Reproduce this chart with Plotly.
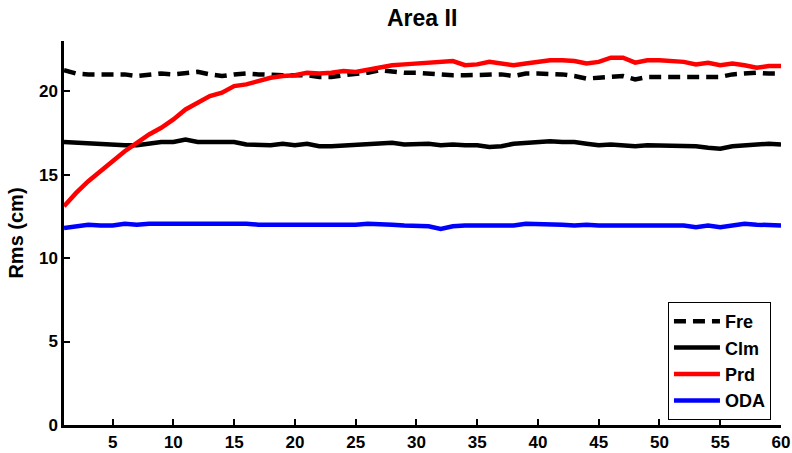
import plotly.graph_objects as go

x = list(range(1, 61))

fre = [21.25, 21.05, 21.0, 21.0, 21.0, 21.0, 20.9, 21.0, 21.05, 21.0,
       21.1, 21.15, 21.0, 20.9, 21.0, 21.05, 21.0, 20.95, 20.95, 20.95,
       20.95, 20.85, 20.85, 20.95, 21.0, 21.1, 21.25, 21.15, 21.1, 21.1,
       21.05, 20.95, 20.95, 20.95, 20.95, 21.0, 21.0, 20.9, 21.05, 21.05,
       21.05, 21.0, 20.9, 20.75, 20.8, 20.85, 20.9, 20.7, 20.85, 20.85,
       20.85, 20.85, 20.85, 20.85, 20.85, 21.0, 21.05, 21.1, 21.05, 21.05]

clm = [16.95, 16.9, 16.85, 16.85, 16.8, 16.75, 16.75, 16.85, 16.95, 16.95,
       17.1, 16.95, 16.95, 16.95, 16.95, 16.8, 16.8, 16.75, 16.85, 16.75,
       16.85, 16.7, 16.7, 16.75, 16.75, 16.85, 16.9, 16.9, 16.8, 16.85,
       16.85, 16.75, 16.8, 16.75, 16.75, 16.65, 16.7, 16.85, 16.9, 17.0,
       17.0, 16.95, 16.95, 16.85, 16.75, 16.8, 16.75, 16.7, 16.75, 16.75,
       16.75, 16.75, 16.7, 16.6, 16.55, 16.7, 16.75, 16.75, 16.85, 16.8]

prd = [13.1, 13.9, 14.6, 15.2, 15.8, 16.4, 16.9, 17.4, 17.8, 18.3,
       18.9, 19.3, 19.7, 19.9, 20.3, 20.4, 20.6, 20.8, 20.9, 20.95,
       21.1, 21.05, 21.1, 21.2, 21.15, 21.3, 21.45, 21.55, 21.6, 21.65,
       21.7, 21.75, 21.8, 21.55, 21.6, 21.75, 21.65, 21.55, 21.65, 21.75,
       21.85, 21.85, 21.8, 21.65, 21.75, 22.0, 22.0, 21.7, 21.85, 21.85,
       21.8, 21.75, 21.6, 21.7, 21.55, 21.65, 21.55, 21.4, 21.5, 21.5]

oda = [11.8, 11.9, 12.0, 11.95, 11.95, 12.05, 12.0, 12.05, 12.05, 12.05,
       12.1, 12.05, 12.1, 12.05, 12.1, 12.05, 12.0, 12.0, 12.0, 11.95,
       12.0, 11.95, 11.95, 12.0, 12.0, 12.05, 12.05, 12.0, 11.95, 11.9,
       11.9, 11.75, 11.9, 11.95, 11.95, 11.95, 11.95, 11.95, 12.05, 12.05,
       12.0, 12.0, 11.95, 12.0, 11.95, 11.95, 11.95, 11.95, 12.0, 12.0,
       12.0, 11.95, 11.85, 11.95, 11.85, 11.95, 12.05, 12.0, 12.0, 11.95]

x_ticks = [5, 10, 15, 20, 25, 30, 35, 40, 45, 50, 55, 60]
y_ticks = [0, 5, 10, 15, 20]

FONT = "Liberation Sans, Arial, sans-serif"

fig = go.Figure()
fig.add_trace(go.Scatter(x=x, y=fre, mode="lines", name="Fre",
                         line=dict(color="black", width=4.5, dash="12px,7px")))
fig.add_trace(go.Scatter(x=x, y=clm, mode="lines", name="Clm",
                         line=dict(color="black", width=4.5)))
fig.add_trace(go.Scatter(x=x, y=prd, mode="lines", name="Prd",
                         line=dict(color="#ff0000", width=4.5)))
fig.add_trace(go.Scatter(x=x, y=oda, mode="lines", name="ODA",
                         line=dict(color="#0000ff", width=4.5)))

fig.update_layout(
    width=792, height=453,
    margin=dict(l=64, r=11, t=41, b=28),
    paper_bgcolor="white", plot_bgcolor="white",
    font=dict(family=FONT, color="black", size=16),
    title=dict(text="<b>Area II</b>", x=0.533, xanchor="center",
               y=1 - 18 / 453, yanchor="middle", yref="container",
               font=dict(family=FONT, size=23, color="black")),
    showlegend=True,
    legend=dict(x=0.986, xanchor="right", y=0.013, yanchor="bottom",
                bordercolor="black", borderwidth=1, bgcolor="white",
                font=dict(family=FONT, size=18, color="black", weight="bold"),
                tracegroupgap=0, itemwidth=46),
    xaxis=dict(range=[1, 60], tickvals=x_ticks, showgrid=False, zeroline=False,
               showline=True, linecolor="black", linewidth=2.5, automargin=False,
               ticks="inside", ticklen=6, tickwidth=2, tickcolor="black",
               tickfont=dict(family=FONT, size=17, color="black", weight="bold")),
    yaxis=dict(range=[0, 23], tickvals=y_ticks, showgrid=False, zeroline=False,
               showline=True, linecolor="black", linewidth=2.5, automargin=False,
               ticks="inside", ticklen=6, tickwidth=2, tickcolor="black",
               tickfont=dict(family=FONT, size=17, color="black", weight="bold"),
               title=dict(text="<b>Rms (cm)</b>", standoff=10,
                          font=dict(family=FONT, size=20, color="black"))),
)

fig.write_html("out.html")
